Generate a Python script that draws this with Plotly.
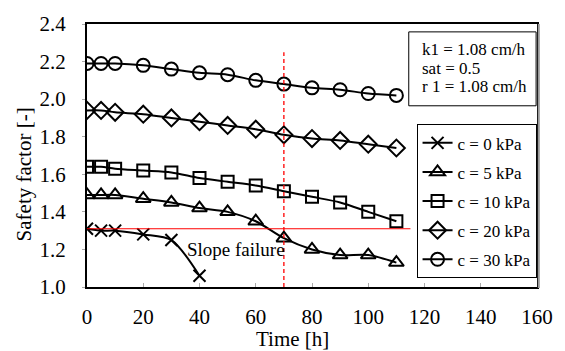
import plotly.graph_objects as go

time_all = [0, 5, 10, 20, 30, 40, 50, 60, 70, 80, 90, 100, 110]
time_c0 = [0, 5, 10, 20, 30, 40]

sf_c0 = [1.31, 1.30, 1.30, 1.28, 1.25, 1.06]
sf_c5 = [1.49, 1.49, 1.49, 1.47, 1.45, 1.42, 1.40, 1.35, 1.26, 1.20, 1.17, 1.17, 1.13]
sf_c10 = [1.64, 1.64, 1.63, 1.62, 1.61, 1.58, 1.56, 1.54, 1.51, 1.48, 1.45, 1.40, 1.35]
sf_c20 = [1.94, 1.94, 1.93, 1.92, 1.90, 1.88, 1.86, 1.84, 1.81, 1.79, 1.78, 1.76, 1.74]
sf_c30 = [2.19, 2.19, 2.19, 2.18, 2.16, 2.14, 2.13, 2.10, 2.08, 2.06, 2.05, 2.03, 2.02]

series_names = ["c = 0 kPa", "c = 5 kPa", "c = 10 kPa", "c = 20 kPa", "c = 30 kPa"]
info_lines = ["k1 = 1.08 cm/h", "sat = 0.5", "r 1 = 1.08 cm/h"]

threshold_sf = 1.31
threshold_x = [0, 115]
event_time = 70
event_y = [1.0, 2.25]

x_ticks = [0, 20, 40, 60, 80, 100, 120, 140, 160]
y_ticks = [1.0, 1.2, 1.4, 1.6, 1.8, 2.0, 2.2, 2.4]

FONT = "Liberation Serif, Times New Roman, DejaVu Serif, serif"

fig = go.Figure()

series = [
    (time_c0, sf_c0, "x-thin-open", 12),
    (time_all, sf_c5, "triangle-up-open", 13),
    (time_all, sf_c10, "square-open", 12),
    (time_all, sf_c20, "diamond-open", 13),
    (time_all, sf_c30, "circle-open", 13),
]
for i, ((xs, ys, sym, size), name) in enumerate(zip(series, series_names)):
    fig.add_trace(go.Scatter(
        x=xs, y=ys, name=name, mode="lines+markers", legendgroup=f"g{i}",
        line=dict(color="black", width=2, shape="spline", smoothing=0.8),
        marker=dict(symbol=sym, size=size, color="black", line=dict(color="black", width=2)),
    ))

# threshold line and event line
fig.add_trace(go.Scatter(x=threshold_x, y=[threshold_sf, threshold_sf], mode="lines",
                         line=dict(color="red", width=1.2), showlegend=False, hoverinfo="skip"))
fig.add_trace(go.Scatter(x=[event_time, event_time], y=event_y, mode="lines",
                         line=dict(color="red", width=1.3, dash="4px,3px"), showlegend=False, hoverinfo="skip"))

fig.add_annotation(x=53, y=1.2, xref="x", yref="y", text="Slope failure", showarrow=False,
                   font=dict(family=FONT, size=19, color="black"))

# info box
fig.add_shape(type="rect", xref="paper", yref="paper", x0=0.715, x1=0.998, y0=0.689, y1=0.970,
              line=dict(color="black", width=1), fillcolor="white", layer="above")
for line_text, ypos in zip(info_lines, [0.904, 0.832, 0.761]):
    fig.add_annotation(x=0.741, y=ypos, xref="paper", yref="paper", xanchor="left", yanchor="middle",
                       text=line_text, showarrow=False,
                       font=dict(family=FONT, size=17, color="black"))

# axis titles
fig.add_annotation(x=0.456, y=0, xref="paper", yref="paper", xanchor="center", yanchor="top", yshift=-38,
                   text="Time [h]", showarrow=False, font=dict(family=FONT, size=21, color="black"))
fig.add_annotation(x=-0.14, y=0.428, xref="paper", yref="paper", xanchor="center", yanchor="middle",
                   textangle=-90, text="Safety factor [-]", showarrow=False,
                   font=dict(family=FONT, size=21, color="black"))

# gray shadow on right border
fig.add_shape(type="line", xref="paper", yref="paper", x0=1.004, x1=1.004, y0=-0.004, y1=1,
              line=dict(color="#999999", width=2))

fig.update_layout(
    width=565, height=351,
    margin=dict(l=87, r=22, t=17, b=64),
    paper_bgcolor="white", plot_bgcolor="white",
    font=dict(family=FONT, color="black"),
    showlegend=True,
    legend=dict(x=0.999, xanchor="right", y=0.033, yanchor="bottom",
                bordercolor="black", borderwidth=1, bgcolor="white",
                font=dict(family=FONT, size=17, color="black"),
                itemwidth=30, tracegroupgap=4),
    xaxis=dict(range=[0, 160], tickvals=x_ticks, ticks="inside", ticklen=4, tickcolor="#aaaaaa",
               showline=True, linecolor="black", linewidth=2, mirror=True,
               showgrid=False, zeroline=False, tickfont=dict(family=FONT, size=21),
               ticklabelstandoff=10),
    yaxis=dict(range=[1.0, 2.4], tickvals=y_ticks, tickformat=".1f", ticks="outside", ticklen=3,
               tickcolor="#aaaaaa", showline=True, linecolor="black", linewidth=2, mirror=True,
               showgrid=False, zeroline=False, tickfont=dict(family=FONT, size=21),
               ticklabelstandoff=12),
)

fig.write_html("out.html")
